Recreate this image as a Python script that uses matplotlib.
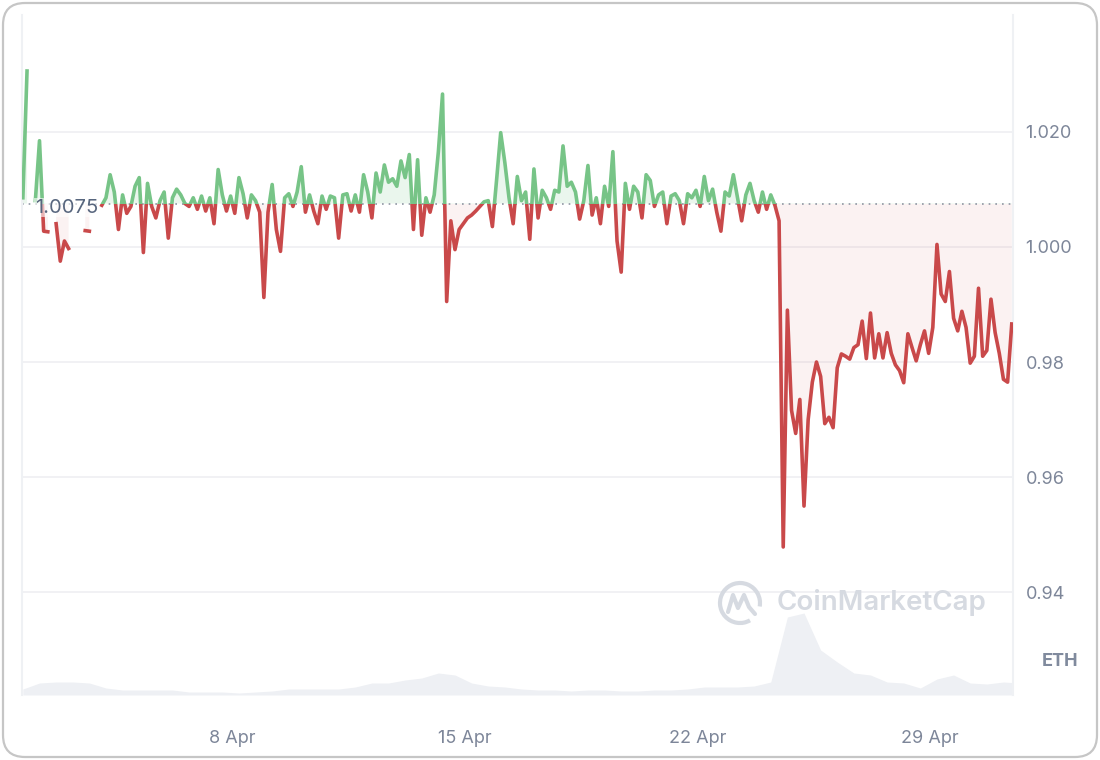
import matplotlib.pyplot as plt
import matplotlib.transforms as mtransforms
import pandas as pd
import numpy as np
from matplotlib.patches import FancyBboxPatch, Rectangle, Arc
from matplotlib.lines import Line2D

plt.rcParams['font.family'] = ['Inter', 'DejaVu Sans']

# price in ETH, one reading every 3 hours from 1 Apr 17:00
start = '2024-04-01 17:00'
prices = [
    1.0085, 1.0305, np.nan, 1.0080, 1.0184, 1.0027, 1.0026, np.nan, 1.0040, 0.9975,
    1.0010, 0.9997, np.nan, np.nan, np.nan, 1.0028, 1.0027, np.nan, np.nan, 1.0072,
    1.0085, 1.0125, 1.0095, 1.0030, 1.0090, 1.0058, 1.0070, 1.0105, 1.0120, 0.9990,
    1.0110, 1.0070, 1.0050, 1.0080, 1.0095, 1.0015, 1.0085, 1.0100, 1.0090, 1.0075,
    1.0070, 1.0085, 1.0065, 1.0088, 1.0062, 1.0085, 1.0040, 1.0134, 1.0090, 1.0062,
    1.0088, 1.0058, 1.0120, 1.0092, 1.0050, 1.0090, 1.0080, 1.0060, 0.9912, 1.0060,
    1.0108, 1.0030, 0.9992, 1.0085, 1.0092, 1.0070, 1.0095, 1.0139, 1.0060, 1.0090,
    1.0062, 1.0040, 1.0088, 1.0065, 1.0088, 1.0085, 1.0015, 1.0090, 1.0092, 1.0062,
    1.0090, 1.0060, 1.0125, 1.0095, 1.0050, 1.0128, 1.0095, 1.0142, 1.0112, 1.0118,
    1.0105, 1.0149, 1.0120, 1.0160, 1.0030, 1.0151, 1.0020, 1.0085, 1.0060, 1.0090,
    1.0165, 1.0265, 0.9905, 1.0045, 0.9995, 1.0030, 1.0040, 1.0050, 1.0055, 1.0062,
    1.0070, 1.0078, 1.0080, 1.0035, 1.0115, 1.0198, 1.0146, 1.0085, 1.0040, 1.0122,
    1.0080, 1.0095, 1.0013, 1.0135, 1.0050, 1.0098, 1.0085, 1.0065, 1.0098, 1.0095,
    1.0175, 1.0105, 1.0112, 1.0095, 1.0048, 1.0080, 1.0141, 1.0055, 1.0085, 1.0040,
    1.0105, 1.0070, 1.0165, 1.0010, 0.9956, 1.0110, 1.0065, 1.0105, 1.0095, 1.0050,
    1.0125, 1.0115, 1.0070, 1.0090, 1.0095, 1.0040, 1.0088, 1.0092, 1.0080, 1.0040,
    1.0092, 1.0085, 1.0098, 1.0070, 1.0122, 1.0080, 1.0100, 1.0060, 1.0027, 1.0095,
    1.0088, 1.0125, 1.0085, 1.0045, 1.0090, 1.0110, 1.0080, 1.0060, 1.0095, 1.0065,
    1.0090, 1.0072, 1.0045, 0.9479, 0.9890, 0.9716, 0.9676, 0.9735, 0.9550, 0.9700,
    0.9765, 0.9800, 0.9775, 0.9693, 0.9704, 0.9686, 0.9790, 0.9814, 0.9810, 0.9805,
    0.9825, 0.9830, 0.9871, 0.9806, 0.9885, 0.9807, 0.9849, 0.9807, 0.9851, 0.9815,
    0.9795, 0.9785, 0.9764, 0.9849, 0.9825, 0.9802, 0.9830, 0.9854, 0.9815, 0.9860,
    1.0004, 0.9918, 0.9905, 0.9957, 0.9876, 0.9854, 0.9888, 0.9860, 0.9798, 0.9810,
    0.9928, 0.9810, 0.9820, 0.9909, 0.9851, 0.9815, 0.9770, 0.9765, 0.9866,
]

# trading volume (relative units), one reading every 12 hours
volume = [
    6, 12, 13, 13, 12, 7, 5, 5, 5, 5,
    3, 3, 3, 2, 3, 4, 6, 6, 6, 6,
    8, 12, 12, 15, 17, 22, 20, 12, 9, 8,
    6, 5, 5, 4, 5, 5, 4, 4, 5, 5,
    6, 8, 8, 8, 9, 13, 78, 82, 45, 33,
    22, 20, 13, 12, 7, 16, 20, 12, 11, 13, 12,
]

base_price = 1.0075
y_ticks = [0.94, 0.96, 0.98, 1.00, 1.02]
y_tick_labels = ['0.94', '0.96', '0.98', '1.000', '1.020']
x_tick_dates = ['2024-04-08', '2024-04-15', '2024-04-22', '2024-04-29']
x_tick_labels = ['8 Apr', '15 Apr', '22 Apr', '29 Apr']

green = '#77c487'
red = '#c9494a'
label_col = '#7d8699'

t = pd.date_range(start, periods=len(prices), freq='3h')
tv = pd.date_range(start, periods=len(volume), freq='12h')
x_min = pd.Timestamp('2024-04-01 16:22')
x_max = pd.Timestamp('2024-05-01 11:54')

fig = plt.figure(figsize=(11, 7.6), dpi=100)
pos = [22 / 1100, 65 / 760, 991 / 1100, 680 / 760]

# volume underneath
ax_v = fig.add_axes(pos)
ax_v.fill_between(tv, volume, 0, color='#eef0f4', lw=0)
ax_v.set_xlim(x_min, x_max)
ax_v.set_ylim(0, 680)
ax_v.axis('off')

ax = fig.add_axes(pos, facecolor='none')
ax.set_xlim(x_min, x_max)
ax.set_ylim(0.92221, 1.04022)

blend = mtransforms.blended_transform_factory(ax.transAxes, ax.transData)
above = Rectangle((0, base_price), 1, 1, transform=blend)
below = Rectangle((0, base_price - 1), 1, 1, transform=blend)

f1 = ax.fill_between(t, prices, base_price, color=green, alpha=0.15, lw=0)
f1.set_clip_path(above)
f2 = ax.fill_between(t, prices, base_price, color=red, alpha=0.07, lw=0)
f2.set_clip_path(below)

ax.axhline(base_price, color='#8f96a3', lw=1.2, ls=(0, (1, 3)), zorder=2.5)

lg, = ax.plot(t, prices, color=green, lw=2.6, solid_joinstyle='round', zorder=3)
lg.set_clip_path(above)
lr, = ax.plot(t, prices, color=red, lw=2.6, solid_joinstyle='round', zorder=3)
lr.set_clip_path(below)

ax.annotate(f'{base_price}', xy=(0.013, base_price), xycoords=blend,
            xytext=(0, -3), textcoords='offset points', va='center', ha='left',
            fontsize=14.5, color='#58667e', zorder=4,
            bbox=dict(fc='white', ec='none', alpha=0.6, pad=0.5))

ax.set_yticks(y_ticks)
ax.set_yticklabels(y_tick_labels)
ax.yaxis.tick_right()
ax.tick_params(axis='y', length=0, pad=9, labelsize=13, labelcolor=label_col)
ax.grid(axis='y', color='#efeff2', lw=1.2)
ax.set_axisbelow(True)

ax.set_xticks(pd.to_datetime(x_tick_dates))
ax.set_xticklabels(x_tick_labels)
ax.tick_params(axis='x', length=0, pad=25, labelsize=13, labelcolor=label_col)

for side in ['top', 'bottom']:
    ax.spines[side].set_visible(False)
for side in ['left', 'right']:
    ax.spines[side].set_color('#eff1f4')
    ax.spines[side].set_linewidth(1.5)

fig.text(1060 / 1100, 1 - 662 / 760, 'ETH', ha='center', va='center',
         fontsize=13, fontweight='bold', color='#808a9d')

# watermark
wm = '#d6dae1'
fig.text(777 / 1100, 1 - 603 / 760, 'CoinMarketCap', ha='left', va='center',
         fontsize=20, fontweight='semibold', color=wm)
ident = mtransforms.IdentityTransform()
cx, cy = 740, 760 - 603
fig.add_artist(Arc((cx, cy), 40, 40, theta1=-10, theta2=300, transform=ident,
                   color=wm, lw=3))
wave_x = [cx - 12, cx - 7, cx - 2, cx + 4, cx + 9, cx + 15]
wave_y = [cy - 9, cy + 8, cy - 5, cy + 8, cy - 4, cy - 11]
fig.add_artist(Line2D(wave_x, wave_y, transform=ident, color=wm, lw=3,
                      solid_joinstyle='round', solid_capstyle='round'))

# rounded card border
fig.add_artist(FancyBboxPatch((3, 3), 1094, 754, boxstyle='round,pad=0,rounding_size=22',
                              transform=ident, fc='none', ec='#c6c6c6', lw=1.6))

fig.savefig('out.png', dpi=100)
